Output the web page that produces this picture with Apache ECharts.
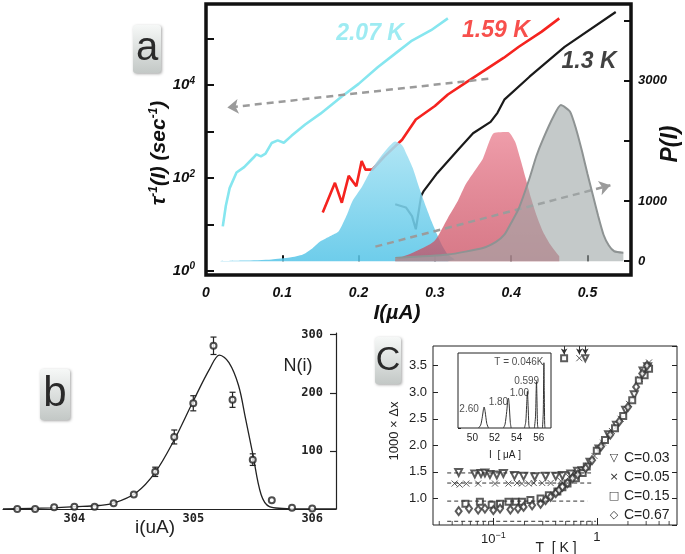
<!DOCTYPE html>
<html><head><meta charset="utf-8">
<script src="https://cdn.jsdelivr.net/npm/echarts@6/dist/echarts.min.js"></script>
<style>html,body{margin:0;padding:0;background:#fff}#c{width:685px;height:554px}</style>
</head><body><div id="c"></div>
<script>
// ---------------- Panel a data ----------------
const aXTickVals = [0, 0.1, 0.2, 0.3, 0.4, 0.5];
const aRightLabels = [0, 1000, 3000];
const aTau207 = [[0.022,9],[0.026,25],[0.031,60],[0.040,130],[0.050,170],[0.062,270],[0.066,320],[0.072,290],[0.078,330],[0.086,560],[0.094,640],[0.102,570],[0.112,800],[0.130,1400],[0.150,2400],[0.178,5600],[0.200,10500],[0.225,24000],[0.250,50000],[0.270,90000],[0.295,150000],[0.317,270000]];
const aTau159 = [[0.153,18],[0.169,78],[0.178,29],[0.187,110],[0.197,66],[0.204,230],[0.209,150],[0.218,150],[0.234,290],[0.257,660],[0.275,1800],[0.300,3500],[0.317,6200],[0.340,11000],[0.363,19500],[0.390,38000],[0.410,66000],[0.440,140000],[0.463,270000]];
const aTau13 = [[0.248,27],[0.262,23],[0.270,15],[0.275,7.8],[0.282,41],[0.285,51],[0.303,126],[0.331,410],[0.350,910],[0.373,1600],[0.382,2500],[0.391,4800],[0.424,15000],[0.470,66000],[0.537,370000]];
const aP207 = [[0.019,0],[0.05,10],[0.086,30],[0.110,60],[0.127,110],[0.140,220],[0.150,330],[0.163,420],[0.174,500],[0.185,780],[0.192,1000],[0.205,1250],[0.215,1490],[0.234,1820],[0.248,1990],[0.257,1930],[0.264,1750],[0.271,1550],[0.280,1200],[0.289,880],[0.296,650],[0.303,440],[0.310,250],[0.317,110],[0.326,30]];
const aP159 = [[0.248,30],[0.271,140],[0.299,330],[0.317,720],[0.330,1000],[0.340,1270],[0.352,1500],[0.363,1710],[0.377,2130],[0.396,2150],[0.405,1990],[0.412,1700],[0.419,1380],[0.426,1050],[0.433,770],[0.442,480],[0.451,280],[0.463,80]];
const aP13 = [[0.248,55],[0.317,110],[0.363,220],[0.380,320],[0.391,440],[0.400,640],[0.410,880],[0.424,1380],[0.433,1750],[0.442,2040],[0.455,2400],[0.465,2600],[0.477,2490],[0.485,2200],[0.493,1820],[0.500,1450],[0.507,1100],[0.514,750],[0.521,440],[0.528,260],[0.535,165],[0.547,140]];
const aArrowLeft = [[0.370,13500],[0.028,3240]];
const aArrowRight = [[0.222,3.3],[0.530,69]];
const aTempLabels = ['2.07 K', '1.59 K', '1.3 K'];
const aTempLabelPos = [[0.215,126000],[0.380,145000],[0.502,31600]];

// ---------------- Panel b data ----------------
const bI   = [303.52,303.67,303.83,304.0,304.17,304.33,304.5,304.68,304.84,305.0,305.17,305.33,305.5,305.66,305.83,306.0];
const bN   = [0,0,3,4,4,10,25,64,124,182,281,188,85,15,2,1];
const bErr = [0,0,0,0,0,0,0,8,12,13,15,13,10,0,0,0];
const bFitI = [303.4,303.8,304.0,304.2,304.33,304.52,304.68,304.84,305.0,305.14,305.22,305.3,305.38,305.44,305.5,305.57,305.64,305.75,305.9,306.2];
const bFitN = [0,2,4,6,10,28,63,119,186,242,265,252,213,155,95,25,4,1,0,0];
const bXLabels = [304, 305, 306];
const bYLabels = [100, 200, 300];

// ---------------- Panel c data ----------------
const cT003 = [0.0462,0.0662,0.0760,0.0829,0.0927,0.108,0.125,0.160,0.196,0.251,0.320,0.401,0.465,0.561,0.652,0.72,0.86,1.05,1.30,1.55,1.90,2.30,2.80,3.10];
const cY003 = [1.49,1.46,1.47,1.48,1.45,1.44,1.47,1.43,1.42,1.41,1.42,1.42,1.43,1.46,1.51,1.52,1.68,1.93,2.20,2.38,2.66,2.95,3.40,3.48];
const cT005 = [0.0422,0.0472,0.0548,0.0713,0.1038,0.140,0.169,0.189,0.220,0.246,0.297,0.358,0.448,0.540,0.628,0.75,0.95,1.15,1.40,1.70,2.05,2.60,3.20];
const cY005 = [1.28,1.26,1.28,1.28,1.28,1.28,1.29,1.28,1.28,1.29,1.29,1.29,1.33,1.40,1.48,1.55,1.80,2.05,2.27,2.50,2.78,3.25,3.56];
const cT015 = [0.0537,0.0741,0.0964,0.116,0.140,0.165,0.189,0.228,0.286,0.344,0.416,0.465,0.521,0.628,0.730,0.80,1.00,1.20,1.50,1.80,2.20,2.55,2.90,3.20];
const cY015 = [0.90,0.94,0.88,0.90,0.94,0.94,0.94,0.97,1.00,1.06,1.13,1.21,1.28,1.38,1.48,1.60,1.90,2.10,2.32,2.55,2.85,3.22,3.32,3.44];
const cT067 = [0.0462,0.0582,0.0713,0.0829,0.100,0.116,0.146,0.173,0.196,0.237,0.286,0.320,0.358,0.401,0.432,0.465,0.521,0.582,0.652,0.78,0.90,1.10,1.35,1.65,2.00,2.40,2.75,3.05];
const cY067 = [0.76,0.81,0.79,0.81,0.78,0.81,0.79,0.81,0.84,0.87,0.90,0.97,1.03,1.10,1.16,1.22,1.29,1.38,1.45,1.57,1.72,1.98,2.20,2.45,2.72,3.10,3.35,3.50];
const cOutT = [0.483, 0.678, 0.774];   // square, cross, triangle markers at top
const cOutY = 3.64;
const cDashY = [1.48, 1.29, 0.95, 0.57];
const cDashT = [[0.0358,0.88],[0.0358,0.91],[0.0358,0.81],[0.0358,0.98]];
const cMinorT = [0.03,0.04,0.05,0.06,0.07,0.08,0.09,0.2,0.3,0.4,0.5,0.6,0.7,0.8,0.9,2,3,4,5];
const cLegend = ['C=0.03','C=0.05','C=0.15','C=0.67'];
const cLegendGlyph = ['\u25BD','\u00D7','\u25A1','\u25C7'];

// ---------------- Inset data ----------------
const insPeak260 = [[50.55,0],[50.75,0.04],[50.9,0.15],[51.0,0.25],[51.06,0.28],[51.15,0.22],[51.3,0.06],[51.45,0]];
const insPeak180 = [[52.8,0],[52.95,0.05],[53.1,0.22],[53.2,0.37],[53.25,0.40],[53.32,0.32],[53.42,0.08],[53.5,0]];
const insPeak100 = [[54.7,0],[54.82,0.08],[54.9,0.30],[54.97,0.49],[55.03,0.30],[55.1,0.04],[55.15,0]];
const insPeak0599 = [[55.6,0],[55.7,0.15],[55.76,0.50],[55.79,0.62],[55.83,0.40],[55.88,0.05],[55.92,0]];
const insPeak0046 = [[56.33,0],[56.4,0.20],[56.44,0.70],[56.46,0.87],[56.49,0.50],[56.53,0.05],[56.56,0]];
const insLabels = ['2.60','1.80','1.00','0.599','T = 0.046K'];
const insLabelPos = [[49.7,0.25],[52.35,0.35],[54.25,0.46],[54.9,0.63],[54.2,0.88]];

// ---------------- Chart ----------------
const chart = echarts.init(document.getElementById('c'));
const BI = {fontWeight:'bold', fontStyle:'italic', color:'#111', fontFamily:'Liberation Sans'};
const FONT = 'Liberation Sans';

function zipXY(xs, ys){ return xs.map((x,i)=>[x, ys[i]]); }
function boxGraphic(x, y, w, h, letter, fs){
  return {type:'group', children:[
    {type:'rect', shape:{x:x, y:y, width:w, height:h, r:3},
     style:{fill:new echarts.graphic.LinearGradient(0,0,0,1,[{offset:0,color:'#f6f8f7'},{offset:1,color:'#c3c8c6'}]),
            shadowBlur:3, shadowColor:'rgba(0,0,0,0.35)', shadowOffsetX:1, shadowOffsetY:1}},
    {type:'text', x:x+w/2, y:y+h/2, style:{text:letter, fill:'#2a2a2a', font:'normal '+fs+'px "Liberation Sans"', align:'center', verticalAlign:'middle'}}
  ]};
}
const crossPath = 'path://M0,0L10,10M10,0L0,10';
const tempColors = ['#86e6ef', '#f5231f', '#111111'];

const option = {
  animation: false,
  backgroundColor: '#fff',
  textStyle: {fontFamily: FONT},
  grid: [
    {left:206, top:4, width:425, height:271, show:true, borderColor:'#111', borderWidth:3.5, backgroundColor:'rgba(0,0,0,0)'},
    {left:3, top:333, width:333, height:176, show:false},
    {left:433, top:346, width:244, height:179, show:true, borderColor:'#222', borderWidth:1},
    {left:458, top:353, width:93, height:75, show:true, borderColor:'#222', borderWidth:1, backgroundColor:'#fff', z:5}
  ],
  xAxis: [
    {gridIndex:0, type:'value', min:0, max:0.557, interval:0.1,
     axisLine:{show:false}, splitLine:{show:false},
     axisTick:{inside:true, length:6, lineStyle:{color:'#111', width:2}},
     axisLabel:Object.assign({margin:11, fontSize:14, showMaxLabel:false,
       formatter:v=>{const r=Math.round(v*10)/10; return aXTickVals.some(t=>Math.abs(t-r)<1e-9)&&Math.abs(v-r)<1e-9 ? String(r) : '';}}, BI)},
    {gridIndex:1, type:'value', min:303.4, max:306.2,
     axisLine:{show:true, lineStyle:{color:'#222', width:1.2}}, splitLine:{show:false}, axisTick:{show:false},
     axisLabel:{margin:4, fontSize:12, fontWeight:'bold', fontFamily:'DejaVu Sans Mono', color:'#222',
       formatter:v=> bXLabels.some(t=>Math.abs(t-v)<1e-6) ? String(Math.round(v)) : ''}},
    {gridIndex:2, type:'log', logBase:10, min:0.0261, max:5.96, splitNumber:2,
     axisLine:{show:false}, splitLine:{show:false},
     axisTick:{inside:true, length:7, lineStyle:{color:'#222'}},
     axisLabel:{margin:6, fontSize:13, color:'#222', showMinLabel:false, showMaxLabel:false,
       formatter:v=>{ if (Math.abs(v-0.1)<1e-6) return '{b|10}{s|\u22121}'; if (Math.abs(v-1)<1e-6) return '1'; return ''; },
       rich:{b:{fontSize:13, color:'#222'}, s:{fontSize:9, color:'#222', padding:[0,0,8,0]}}}},
    {gridIndex:3, type:'value', min:48.7, max:57.1,
     axisLine:{show:false}, splitLine:{show:false},
     axisTick:{inside:true, length:3, lineStyle:{color:'#222'}},
     axisLabel:{margin:5, fontSize:10, color:'#222', showMinLabel:false, showMaxLabel:false,
       formatter:v=> Math.abs(v-Math.round(v))<1e-6 ? String(Math.round(v)) : ''}}
  ],
  yAxis: [
    {gridIndex:0, type:'log', logBase:10, min:0.81, max:550000, position:'left',
     axisLine:{show:false}, splitLine:{show:false},
     axisTick:{inside:true, length:8, lineStyle:{color:'#111', width:2}},
     axisLabel:{margin:11, showMinLabel:false, showMaxLabel:false,
       formatter:v=>{const l=Math.log10(v); const e=Math.round(l); if (Math.abs(l-e)>1e-6) return ''; return e%2===0 ? '{b|10}{s|'+e+'}' : '';},
       rich:{b:Object.assign({fontSize:15}, BI), s:Object.assign({fontSize:10, padding:[0,0,8,0]}, BI)}}},
    {gridIndex:0, type:'value', min:-230, max:4280, position:'right',
     axisLine:{show:false}, splitLine:{show:false},
     axisTick:{inside:true, length:7, lineStyle:{color:'#111', width:2}},
     axisLabel:Object.assign({margin:7, fontSize:13, showMinLabel:false, showMaxLabel:false,
       formatter:v=> aRightLabels.indexOf(v)>=0 ? String(v) : ''}, BI)},
    {gridIndex:1, type:'value', min:0, max:303, interval:100, position:'right',
     axisLine:{show:true, lineStyle:{color:'#222', width:1.2}}, splitLine:{show:false},
     axisTick:{inside:true, length:6, lineStyle:{color:'#222', width:1.2}},
     axisLabel:{inside:true, margin:13, fontSize:12, fontWeight:'bold', fontFamily:'DejaVu Sans Mono', color:'#222',
       showMinLabel:false, showMaxLabel:false, formatter:v=> bYLabels.indexOf(v)>=0 ? String(v) : ''}},
    {gridIndex:2, type:'value', min:0.5, max:3.87, interval:0.5, position:'left',
     axisLine:{show:false}, splitLine:{show:false},
     axisTick:{inside:true, length:5, lineStyle:{color:'#222'}},
     axisLabel:{margin:6, fontSize:13, color:'#222', showMinLabel:false, showMaxLabel:false, formatter:v=>v.toFixed(1)}},
    {gridIndex:2, type:'value', min:0.5, max:3.87, interval:0.5, position:'right',
     axisLine:{show:false}, splitLine:{show:false},
     axisTick:{inside:true, length:5, lineStyle:{color:'#222'}}, axisLabel:{show:false}},
    {gridIndex:3, type:'value', min:0, max:1, interval:0.25,
     axisLine:{show:false}, splitLine:{show:false},
     axisTick:{inside:true, length:3, lineStyle:{color:'#222'}}, axisLabel:{show:false}}
  ],
  series: [
    // ---- panel a lines
    {type:'line', xAxisIndex:0, yAxisIndex:0, data:aTau207, showSymbol:false, z:2,
     lineStyle:{color:'#86e6ef', width:2.6},
     markLine:{silent:true, symbol:['none','arrow'], symbolSize:[11,11], label:{show:false},
       lineStyle:{type:[7,5], color:'#9b9b9b', width:2.5},
       data:[[{coord:aArrowLeft[0]},{coord:aArrowLeft[1]}],[{coord:aArrowRight[0]},{coord:aArrowRight[1]}]]}},
    {type:'line', xAxisIndex:0, yAxisIndex:0, data:aTau159, showSymbol:false, z:2, lineStyle:{color:'#f5231f', width:2.6}},
    {type:'line', xAxisIndex:0, yAxisIndex:0, data:aTau13, showSymbol:false, z:2, lineStyle:{color:'#1a1a1a', width:2.2}},
    // ---- panel a distributions
    {type:'line', xAxisIndex:0, yAxisIndex:1, data:aP207, showSymbol:false, z:3, smooth:0.2,
     lineStyle:{width:0}, areaStyle:{opacity:1, color:new echarts.graphic.LinearGradient(0,0,0,1,[{offset:0,color:'rgba(165,226,243,0.88)'},{offset:1,color:'rgba(90,198,232,0.88)'}])}},
    {type:'line', xAxisIndex:0, yAxisIndex:1, data:aP159, showSymbol:false, z:4, smooth:0.2,
     lineStyle:{width:0}, areaStyle:{opacity:1, color:new echarts.graphic.LinearGradient(0,0,0,1,[{offset:0,color:'rgba(236,140,155,0.85)'},{offset:1,color:'rgba(200,70,90,0.72)'}])}},
    {type:'line', xAxisIndex:0, yAxisIndex:1, data:aP13, showSymbol:false, z:5, smooth:0.2,
     lineStyle:{width:2, color:'#8e9393'}, areaStyle:{opacity:1, color:'rgba(160,168,168,0.62)'}},
    {type:'scatter', xAxisIndex:0, yAxisIndex:0, symbolSize:0, z:6,
     data:aTempLabelPos.map((p,i)=>({value:p, name:aTempLabels[i], label:{color:tempColors[i]}})),
     label:{show:true, position:'inside', formatter:p=>p.name, fontSize:23, fontWeight:'bold', fontStyle:'italic', fontFamily:FONT}},
    // ---- panel b
    {type:'line', xAxisIndex:1, yAxisIndex:2, data:zipXY(bFitI,bFitN), showSymbol:false, smooth:0.35, lineStyle:{color:'#222', width:1.3}},
    {type:'custom', xAxisIndex:1, yAxisIndex:2, data:bI.map((x,i)=>[x,bN[i],bErr[i]]),
     renderItem:(params, api)=>{
       const e = api.value(2); if (!e) return {type:'group', children:[]};
       const x = api.value(0), y = api.value(1);
       const top = api.coord([x, y+e]), bot = api.coord([x, y-e]);
       const st = {stroke:'#222', lineWidth:1.2};
       return {type:'group', children:[
         {type:'line', shape:{x1:top[0], y1:top[1], x2:bot[0], y2:bot[1]}, style:st},
         {type:'line', shape:{x1:top[0]-3, y1:top[1], x2:top[0]+3, y2:top[1]}, style:st},
         {type:'line', shape:{x1:bot[0]-3, y1:bot[1], x2:bot[0]+3, y2:bot[1]}, style:st}]};
     }},
    {type:'scatter', xAxisIndex:1, yAxisIndex:2, data:zipXY(bI,bN), symbol:'emptyCircle', symbolSize:6, z:4,
     itemStyle:{color:'#222', borderColor:'#222', borderWidth:1.1}},
    // ---- panel c dashed lines
    ...cDashY.map((y,i)=>({type:'line', xAxisIndex:2, yAxisIndex:3, data:[[cDashT[i][0],y],[cDashT[i][1],y]], showSymbol:false,
       lineStyle:{type:[4,3], color:'#333', width:1}})),
    // ---- panel c scatter
    {type:'scatter', xAxisIndex:2, yAxisIndex:3, data:zipXY(cT003,cY003), symbol:'emptyTriangle', symbolRotate:180, symbolSize:7,
     itemStyle:{color:'#333', borderColor:'#333', borderWidth:1}},
    {type:'scatter', xAxisIndex:2, yAxisIndex:3, data:zipXY(cT005,cY005), symbol:crossPath, symbolSize:6,
     itemStyle:{color:'rgba(0,0,0,0)', borderColor:'#333', borderWidth:1}},
    {type:'scatter', xAxisIndex:2, yAxisIndex:3, data:zipXY(cT015,cY015), symbol:'emptyRect', symbolSize:6,
     itemStyle:{color:'#333', borderColor:'#333', borderWidth:1}},
    {type:'scatter', xAxisIndex:2, yAxisIndex:3, data:zipXY(cT067,cY067), symbol:'emptyDiamond', symbolSize:[6,8],
     itemStyle:{color:'#333', borderColor:'#333', borderWidth:1}},
    // top outliers with arrows
    {type:'scatter', xAxisIndex:2, yAxisIndex:3, symbolSize:6,
     data:[{value:[cOutT[0],cOutY], symbol:'emptyRect'},{value:[cOutT[1],cOutY], symbol:crossPath, itemStyle:{color:'rgba(0,0,0,0)'}},{value:[cOutT[2],cOutY], symbol:'emptyTriangle', symbolRotate:180}],
     itemStyle:{color:'#333', borderColor:'#333', borderWidth:1},
     markLine:{silent:true, symbol:['none','arrow'], symbolSize:[5,6], label:{show:false}, lineStyle:{type:'solid', color:'#333', width:1},
       data:cOutT.map(t=>[{coord:[t,3.87]},{coord:[t,3.71]}])}},
    // minor ticks on log axis
    {type:'scatter', xAxisIndex:2, yAxisIndex:3, data:cMinorT.map(t=>[t,0.5]), symbol:'rect', symbolSize:[1,4], symbolOffset:[0,-2],
     itemStyle:{color:'#222'}, clip:false},
    // ---- inset
    ...[insPeak260, insPeak180, insPeak100, insPeak0599, insPeak0046].map(d=>({type:'line', xAxisIndex:3, yAxisIndex:5, data:d, showSymbol:false,
       smooth:0.25, z:6, lineStyle:{color:'#333', width:1}})),
    {type:'scatter', xAxisIndex:3, yAxisIndex:5, symbolSize:0, z:7,
     data:insLabelPos.map((p,i)=>({value:p, name:insLabels[i]})),
     label:{show:true, position:'inside', formatter:p=>p.name, fontSize:10, color:'#222', fontFamily:FONT}}
  ],
  graphic: [
    boxGraphic(133, 25, 28, 48, 'a', 40),
    boxGraphic(40, 369, 30, 51, 'b', 42),
    boxGraphic(375, 337, 26, 47, 'C', 34),
    {type:'text', x:159, y:153, rotation:Math.PI/2,
     style:{text:'{m|\u03C4}{u|-1}{m|(I) (sec}{u|-1}{m|)}', align:'center', verticalAlign:'middle', fill:'#111',
       rich:{m:{fontSize:21, fontWeight:'bold', fontStyle:'italic', fontFamily:FONT, fill:'#111', color:'#111'},
             u:{fontSize:12, fontWeight:'bold', fontStyle:'italic', fontFamily:FONT, fill:'#111', color:'#111', padding:[0,0,10,0]}}}},
    {type:'text', x:671, y:144, rotation:Math.PI/2,
     style:{text:'P(I)', align:'center', verticalAlign:'middle', fill:'#111', font:'italic bold 23px "Liberation Sans"'}},
    {type:'text', x:397, y:313,
     style:{text:'I(\u00B5A)', align:'center', verticalAlign:'middle', fill:'#111', font:'italic bold 21px "Liberation Sans"'}},
    {type:'text', x:298, y:366,
     style:{text:'N(i)', align:'center', verticalAlign:'middle', fill:'#222', font:'normal 18px "Liberation Sans"'}},
    {type:'text', x:155, y:528,
     style:{text:'i(uA)', align:'center', verticalAlign:'middle', fill:'#222', font:'normal 19px "Liberation Sans"'}},
    {type:'text', x:394, y:431, rotation:Math.PI/2,
     style:{text:'1000 \u00D7 \u0394x', align:'center', verticalAlign:'middle', fill:'#222', font:'normal 13px "Liberation Sans"'}},
    {type:'text', x:556, y:548,
     style:{text:'T  [ K ]', align:'center', verticalAlign:'middle', fill:'#222', font:'normal 14px "Liberation Sans"'}},
    {type:'text', x:505, y:455,
     style:{text:'I  [ \u03BCA ]', align:'center', verticalAlign:'middle', fill:'#222', font:'normal 10px "Liberation Sans"'}},
    ...cLegend.map((t,i)=>({type:'group', children:[
      {type:'text', x:614, y:458+i*19, style:{text:cLegendGlyph[i], align:'center', verticalAlign:'middle', fill:'#333', font:'normal 11px "DejaVu Sans"'}},
      {type:'text', x:624, y:458+i*19, style:{text:t, align:'left', verticalAlign:'middle', fill:'#222', font:'normal 14px "Liberation Sans"'}}
    ]}))
  ]
};
chart.setOption(option);
</script>
</body></html>
